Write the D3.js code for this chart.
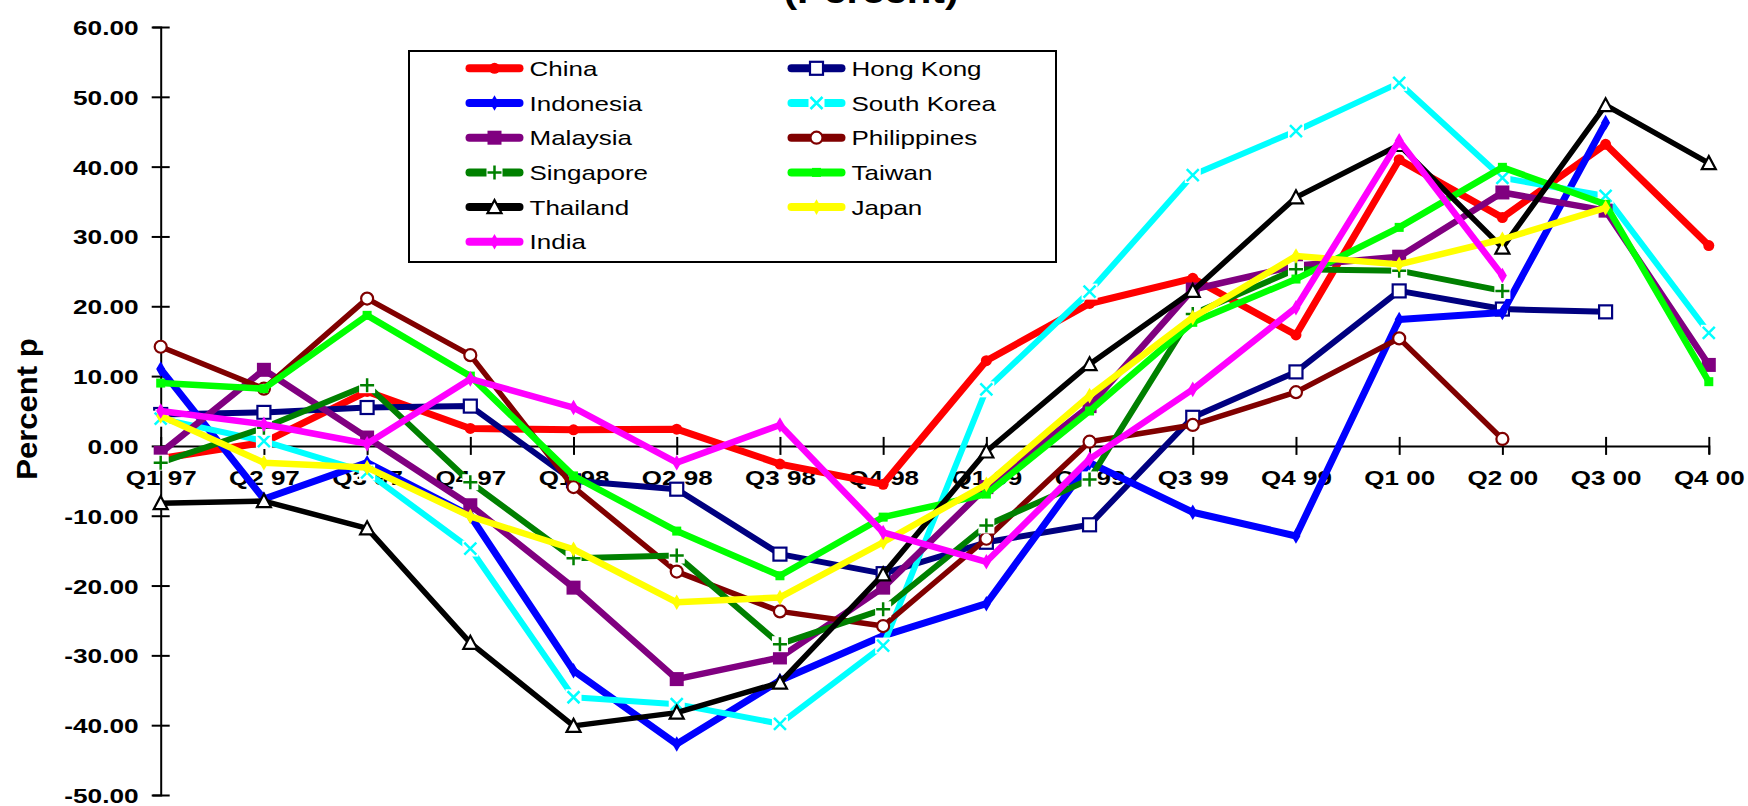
<!DOCTYPE html>
<html>
<head>
<meta charset="utf-8">
<script src="https://cdn.jsdelivr.net/npm/d3@7"></script>
<style>
  html, body { margin: 0; padding: 0; background: #fff; }
  svg { display: block; font-family: "Liberation Sans", Arial, Helvetica, sans-serif; }
</style>
</head>
<body>
<svg id="chart" width="1748" height="806"></svg>
<script>
// ---------------- DATA ----------------
const quarters = ["Q1 97","Q2 97","Q3 97","Q4 97","Q1 98","Q2 98","Q3 98","Q4 98",
                  "Q1 99","Q2 99","Q3 99","Q4 99","Q1 00","Q2 00","Q3 00","Q4 00"];
const yTicks = [60, 50, 40, 30, 20, 10, 0, -10, -20, -30, -40, -50];

const china       = [-1.8, 0.5, 7.8, 2.5, 2.3, 2.4, -2.6, -5.5, 12.2, 20.4, 24.0, 15.9, 41.0, 32.7, 43.2, 28.7];
const hongKong    = [4.5, 4.8, 5.5, 5.7, -5.0, -6.2, -15.5, -18.3, -13.8, -11.3, 4.1, 10.6, 22.2, 19.6, 19.2, null];
const indonesia   = [11.0, -7.6, -2.4, -10.0, -32.2, -42.7, -33.6, -27.2, -22.6, -2.4, -9.5, -12.9, 18.1, 19.1, 46.3, null];
const southKorea  = [3.9, 0.7, -3.8, -14.7, -36.0, -37.0, -39.8, -28.6, 8.1, 22.1, 38.8, 45.1, 52.0, 38.4, 35.8, 16.2];
const malaysia    = [-1.0, 10.9, 1.2, -8.5, -20.3, -33.4, -30.3, -20.3, -5.9, 5.7, 22.4, 25.8, 27.1, 36.3, 33.7, 11.6];
const philippines = [14.2, 8.2, 21.1, 13.0, -5.9, -18.0, -23.7, -25.8, -13.3, 0.6, 3.0, 7.7, 15.4, 1.0, null, null];
const singapore   = [-2.4, 2.6, 8.7, -5.2, -16.1, -15.7, -28.4, -23.4, -11.4, -4.8, 18.9, 25.3, 25.1, 22.2, null, null];
const taiwan      = [9.0, 8.2, 18.7, 10.0, -4.3, -12.2, -18.6, -10.2, -6.9, 5.0, 17.7, 23.9, 31.3, 39.9, 34.6, 9.2];
const thailand    = [-8.2, -7.9, -11.8, -28.2, -40.1, -38.2, -33.9, -18.4, -0.8, 11.7, 22.2, 35.6, 43.1, 28.4, 48.8, 40.5];
const japan       = [4.3, -2.4, -3.1, -10.1, -14.8, -22.4, -21.7, -13.8, -5.5, 7.2, 18.4, 27.2, 26.0, 29.6, 34.1, null];
const india       = [5.0, 3.1, 0.3, 9.6, 5.5, -2.4, 3.0, -12.4, -16.6, -1.9, 8.1, 19.8, 43.7, 24.4, null, null];

const seriesNames = ["China","Hong Kong","Indonesia","South Korea","Malaysia","Philippines",
                     "Singapore","Taiwan","Thailand","Japan","India"];
const seriesValues = [china, hongKong, indonesia, southKorea, malaysia, philippines,
                      singapore, taiwan, thailand, japan, india];

// ---------------- STYLE ----------------
const seriesColors  = ["#FF0000","#000080","#0000FF","#00FFFF","#800080","#800000",
                       "#008000","#00FF00","#000000","#FFFF00","#FF00FF"];
const seriesMarkers = ["dot","openSquare","diamond","xbox","square","openCircle",
                       "plusbox","smallSquare","openTriangle","diamond","diamond"];
const seriesWidths  = [7, 6, 7, 6, 6.5, 5.5, 6, 6.5, 5.5, 6.5, 6.5];

const series = seriesNames.map((n, i) => ({
  name: n, values: seriesValues[i], color: seriesColors[i],
  marker: seriesMarkers[i], width: seriesWidths[i]
}));

const SX = 1.3; // horizontal text stretch of the original picture

// ---------------- CHART ----------------
const svg = d3.select("#chart");

const x = d3.scalePoint().domain(quarters).range([160.7, 1708.8]).padding(0);
const y = d3.scaleLinear().domain([-50, 60]).range([795, 27]);

// title (mostly clipped at top, as in the original)
svg.append("text")
  .attr("transform", `translate(871,3) scale(${SX},1)`)
  .attr("text-anchor", "middle")
  .attr("font-size", 31).attr("font-weight", "bold")
  .text("(Percent)");

// y axis label
svg.append("text")
  .attr("transform", "translate(37,409) rotate(-90) scale(1.07,1)")
  .attr("text-anchor", "middle")
  .attr("font-size", 29).attr("font-weight", "bold")
  .text("Percent p");

// y axis
const yAxis = svg.append("g")
  .attr("transform", `translate(${x(quarters[0])},0)`)
  .call(d3.axisLeft(y).tickValues(yTicks).tickSizeOuter(0).tickSize(8)
        .tickFormat(d => d.toFixed(2)));
yAxis.select(".domain").attr("stroke", "#000").attr("stroke-width", 2);
yAxis.selectAll(".tick line").attr("x1", -9).attr("x2", 9).attr("stroke", "#000").attr("stroke-width", 2);
yAxis.selectAll(".tick text")
  .attr("x", null).attr("dy", null)
  .attr("transform", `translate(-22,7.5) scale(${1.25},1)`)
  .attr("text-anchor", "end")
  .attr("font-size", 21).attr("font-weight", "bold")
  .attr("font-family", "Liberation Sans, Arial, sans-serif")
  .attr("fill", "#000");

// x axis at zero
const xAxis = svg.append("g")
  .attr("transform", `translate(0,${y(0)})`)
  .call(d3.axisBottom(x).tickSizeOuter(0).tickSize(8));
xAxis.select(".domain").attr("stroke", "#000").attr("stroke-width", 2);
xAxis.selectAll(".tick line").attr("y1", -9).attr("y2", 9).attr("stroke", "#000").attr("stroke-width", 2);
xAxis.selectAll(".tick text")
  .attr("y", null).attr("dy", null)
  .attr("transform", `translate(0,39) scale(${SX},1)`)
  .attr("text-anchor", "middle")
  .attr("font-size", 20).attr("font-weight", "bold")
  .attr("font-family", "Liberation Sans, Arial, sans-serif")
  .attr("fill", "#000");

// marker drawing
function drawMarker(g, type, color, cx, cy, scale) {
  const s = scale || 1;
  const m = g.append("g").attr("transform", `translate(${cx},${cy}) scale(${s})`);
  switch (type) {
    case "dot":
      m.append("circle").attr("r", 5.5).attr("fill", color); break;
    case "openSquare":
      m.append("rect").attr("x", -6.5).attr("y", -6.5).attr("width", 13).attr("height", 13)
        .attr("fill", "#fff").attr("stroke", color).attr("stroke-width", 2.2); break;
    case "square":
      m.append("rect").attr("x", -7).attr("y", -7).attr("width", 14).attr("height", 14)
        .attr("fill", color); break;
    case "smallSquare":
      m.append("rect").attr("x", -4.5).attr("y", -4.5).attr("width", 9).attr("height", 9)
        .attr("fill", color); break;
    case "diamond":
      m.append("path").attr("d", d3.symbol(d3.symbolDiamond, 70)()).attr("fill", color); break;
    case "openCircle":
      m.append("circle").attr("r", 6).attr("fill", "#fff").attr("stroke", color).attr("stroke-width", 2.2); break;
    case "openTriangle":
      m.append("path").attr("d", "M0,-7 L7,6 L-7,6 Z")
        .attr("fill", "#fff").attr("stroke", color).attr("stroke-width", 2.2); break;
    case "xbox":
      m.append("rect").attr("x", -8).attr("y", -8).attr("width", 16).attr("height", 16).attr("fill", "#fff");
      m.append("path").attr("d", "M-6,-6 L6,6 M6,-6 L-6,6")
        .attr("stroke", color).attr("stroke-width", 2.5).attr("fill", "none"); break;
    case "plusbox":
      m.append("rect").attr("x", -8).attr("y", -8).attr("width", 16).attr("height", 16).attr("fill", "#fff");
      m.append("path").attr("d", "M-7,0 L7,0 M0,-7 L0,7")
        .attr("stroke", color).attr("stroke-width", 2.5).attr("fill", "none"); break;
  }
}

// lines + markers
const line = d3.line()
  .defined(d => d != null)
  .x((d, i) => x(quarters[i]))
  .y(d => y(d));

const plot = svg.append("g");
series.forEach(s => {
  const g = plot.append("g");
  g.append("path")
    .attr("d", line(s.values))
    .attr("fill", "none")
    .attr("stroke", s.color)
    .attr("stroke-width", s.width)
    .attr("stroke-linejoin", "round")
    .attr("stroke-linecap", "round");
  s.values.forEach((v, i) => {
    if (v == null) return;
    drawMarker(g, s.marker, s.color, x(quarters[i]), y(v));
  });
});

// legend
const legend = svg.append("g");
legend.append("rect")
  .attr("x", 409).attr("y", 51).attr("width", 647).attr("height", 211)
  .attr("fill", "#fff").attr("stroke", "#000").attr("stroke-width", 2);

const legCols = [465.5, 787.5];
series.forEach((s, i) => {
  const col = i % 2, row = Math.floor(i / 2);
  const lx = legCols[col], ly = 68.3 + row * 34.7;
  const g = legend.append("g");
  g.append("line")
    .attr("x1", lx + 4).attr("x2", lx + 54).attr("y1", ly).attr("y2", ly)
    .attr("stroke", s.color).attr("stroke-width", 8).attr("stroke-linecap", "round");
  drawMarker(g, s.marker, s.color, lx + 29, ly);
  g.append("text")
    .attr("transform", `translate(${lx + 64},${ly + 7.5}) scale(${SX},1)`)
    .attr("font-size", 20)
    .attr("fill", "#000")
    .text(s.name);
});
</script>
</body>
</html>
